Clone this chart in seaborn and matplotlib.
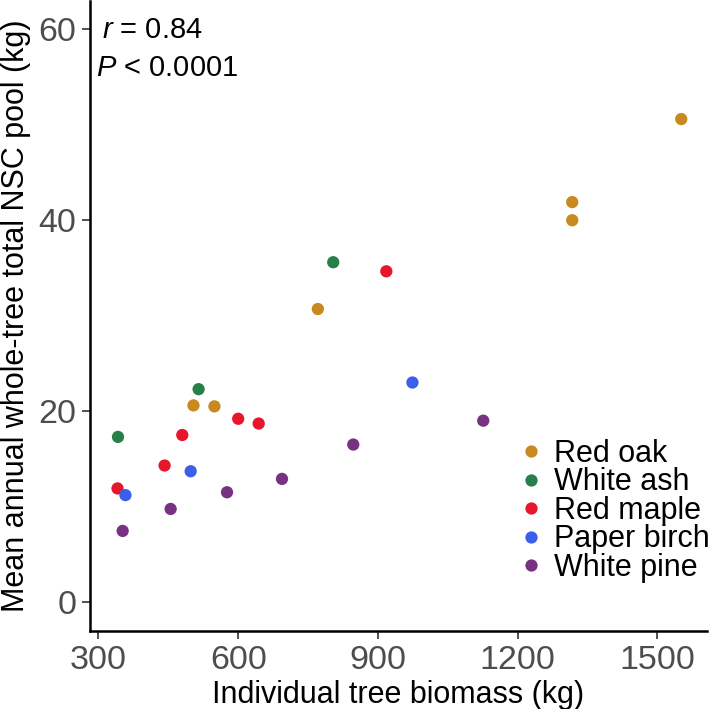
import seaborn as sns
import pandas as pd
import matplotlib.pyplot as plt

# values
red_oak_x = [504, 549, 771, 1317, 1317, 1551]
red_oak_y = [20.6, 20.5, 30.7, 41.9, 40.0, 50.6]
white_ash_x = [342, 515, 804]
white_ash_y = [17.3, 22.3, 35.6]
red_maple_x = [341, 442, 480, 600, 644, 918]
red_maple_y = [11.9, 14.3, 17.5, 19.2, 18.7, 34.65]
paper_birch_x = [358, 498, 974]
paper_birch_y = [11.2, 13.7, 23.0]
white_pine_x = [352, 455, 576, 694, 847, 1126]
white_pine_y = [7.45, 9.75, 11.5, 12.9, 16.5, 19.0]

species = ["Red oak", "White ash", "Red maple", "Paper birch", "White pine"]
colors = ["#C8891E", "#26804A", "#E8162B", "#3A5FE8", "#773282"]

xs = [red_oak_x, white_ash_x, red_maple_x, paper_birch_x, white_pine_x]
ys = [red_oak_y, white_ash_y, red_maple_y, paper_birch_y, white_pine_y]
rows = []
for sp, xv, yv in zip(species, xs, ys):
    for a, b in zip(xv, yv):
        rows.append({"biomass": a, "nsc": b, "species": sp})
df = pd.DataFrame(rows)

sns.set_style("white")
plt.rcParams["font.family"] = ["Liberation Sans", "DejaVu Sans"]
plt.rcParams["mathtext.fontset"] = "custom"
plt.rcParams["mathtext.it"] = "Liberation Sans:italic"
plt.rcParams["mathtext.rm"] = "Liberation Sans"
plt.rcParams["text.color"] = "black"
plt.rcParams["axes.labelcolor"] = "black"

fig = plt.figure(figsize=(7.09, 7.09), dpi=100)
ax = fig.add_axes([0.127, 0.1105, 0.870, 0.8885])

sns.scatterplot(data=df, x="biomass", y="nsc", hue="species",
                hue_order=species, palette=dict(zip(species, colors)),
                s=78, linewidth=0, ax=ax)

ax.set_xlim(282, 1606)
ax.set_ylim(-3, 63)
ax.set_xticks([300, 600, 900, 1200, 1500])
ax.set_yticks([0, 20, 40, 60])
ax.tick_params(axis="both", labelsize=24.5, labelcolor="#4D4D4D",
               length=6, width=1.2, color="#333333", direction="out",
               bottom=True, left=True, pad=4)
for side in ["top", "right"]:
    ax.spines[side].set_visible(False)
for side in ["left", "bottom"]:
    ax.spines[side].set_linewidth(1.8)
    ax.spines[side].set_color("black")

ax.set_xlabel("Individual tree biomass (kg)", fontsize=22, labelpad=3)
ax.set_ylabel("Mean annual whole-tree total NSC pool (kg)", fontsize=22,
              labelpad=5)

ax.text(0.02, 0.975, r"$\it{r}$ = 0.84", transform=ax.transAxes,
        fontsize=21, va="top", ha="left")
ax.text(0.01, 0.915, r"$\it{P}$ < 0.0001", transform=ax.transAxes,
        fontsize=21, va="top", ha="left")

ax.legend(loc="center left", bbox_to_anchor=(0.7, 0.19), frameon=False,
          fontsize=22, handlelength=0.6, handletextpad=0.45,
          labelspacing=-0.05, borderpad=0, borderaxespad=0, markerscale=1.0)

fig.savefig("out.png", dpi=100)
